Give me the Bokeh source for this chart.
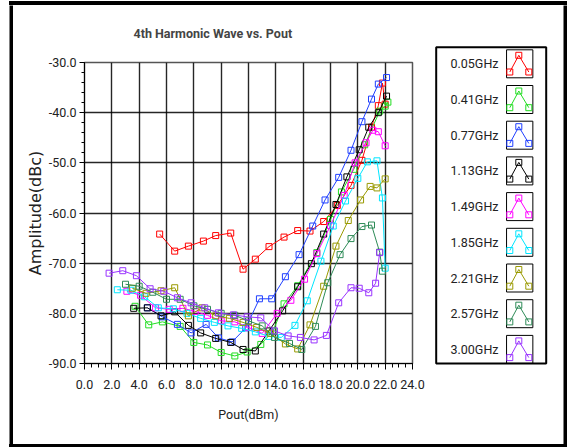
from bokeh.plotting import figure
from bokeh.layouts import Row, Column, Spacer
from bokeh.models import Range1d, SingleIntervalTicker, NumeralTickFormatter
from bokeh.embed import file_html
from bokeh.resources import INLINE
from bokeh.core.properties import value

# ---------------- data ----------------
labels = ["0.05GHz", "0.41GHz", "0.77GHz", "1.13GHz", "1.49GHz",
          "1.85GHz", "2.21GHz", "2.57GHz", "3.00GHz"]
colors = ["#ff0000", "#22dd22", "#1f3fff", "#000000", "#ff00ff",
          "#00e5ff", "#999900", "#2e8b57", "#9933ff"]

x_005 = [5.5, 6.6, 7.6, 8.7, 9.6, 10.7, 11.6, 12.5, 13.5, 14.6, 15.6, 16.5, 17.5, 18.5, 19.5, 20.3, 21.0, 21.5, 21.8, 22.0]
y_005 = [-64.2, -67.6, -66.6, -65.6, -64.5, -64.0, -71.2, -69.2, -66.7, -64.8, -63.5, -63.6, -61.7, -58.5, -54.5, -49.5, -42.9, -38.6, -34.1, -38.3]

x_041 = [3.7, 4.7, 5.7, 7.0, 8.0, 9.0, 10.0, 11.0, 11.9, 12.9, 13.8, 14.6, 15.6, 17.0, 18.0, 18.8, 19.7, 20.5, 21.6, 22.0, 22.2]
y_041 = [-78.6, -82.3, -81.7, -82.6, -85.8, -86.3, -87.8, -88.5, -87.7, -86.2, -83.5, -78.1, -74.5, -67.9, -61.3, -55.8, -51.3, -46.4, -39.7, -38.7, -37.9]

x_077 = [4.6, 5.7, 6.8, 7.8, 8.9, 9.8, 10.8, 11.8, 12.8, 13.7, 14.7, 15.7, 16.7, 17.6, 18.6, 19.5, 20.3, 21.0, 21.5, 22.1]
y_077 = [-78.9, -80.7, -82.2, -83.9, -82.2, -84.9, -85.7, -82.9, -77.1, -77.1, -72.7, -68.3, -62.6, -57.4, -52.9, -47.5, -41.8, -37.3, -34.3, -33.0]

x_113 = [3.6, 4.6, 5.6, 6.6, 7.6, 8.5, 9.6, 10.7, 11.6, 12.5, 13.5, 14.5, 15.6, 16.6, 17.5, 18.4, 19.2, 20.1, 20.8, 21.5, 22.1]
y_113 = [-79.0, -78.9, -80.5, -79.7, -82.4, -83.9, -85.0, -85.8, -87.2, -87.5, -83.5, -79.5, -74.7, -70.1, -64.2, -58.3, -52.8, -47.4, -42.9, -40.0, -36.7]

x_149 = [3.1, 4.1, 5.2, 6.2, 7.2, 8.1, 9.0, 10.0, 11.0, 12.0, 13.0, 14.1, 15.1, 16.1, 17.0, 18.0, 19.0, 19.8, 20.6, 21.1, 21.5, 22.0]
y_149 = [-75.6, -76.4, -78.9, -79.2, -79.0, -79.6, -80.4, -81.5, -81.7, -82.8, -84.0, -80.0, -77.4, -73.2, -68.1, -62.5, -56.5, -50.0, -46.0, -43.5, -43.8, -46.6]

x_185 = [2.4, 3.4, 4.4, 5.4, 6.5, 7.5, 8.5, 9.5, 10.5, 11.5, 12.5, 13.5, 14.4, 15.4, 16.3, 17.3, 18.2, 19.1, 20.0, 20.7, 21.4, 21.8, 22.0]
y_185 = [-75.3, -75.4, -76.7, -78.9, -79.1, -80.0, -81.0, -81.8, -82.5, -83.0, -83.7, -84.6, -84.8, -82.4, -77.5, -69.6, -62.6, -57.6, -53.1, -49.8, -49.6, -57.0, -71.0]

x_221 = [3.5, 4.5, 5.6, 6.6, 7.6, 8.6, 9.6, 10.6, 11.6, 12.6, 13.6, 14.7, 15.6, 16.5, 17.5, 18.4, 19.3, 20.2, 20.9, 21.4, 22.0]
y_221 = [-75.0, -76.0, -75.5, -74.9, -80.5, -78.9, -80.5, -81.0, -81.8, -82.8, -84.0, -86.1, -87.1, -82.3, -74.6, -66.6, -61.5, -57.4, -54.7, -55.0, -53.2]

x_257 = [3.0, 4.0, 5.0, 6.0, 7.0, 8.0, 9.0, 10.0, 11.0, 12.0, 13.0, 13.9, 15.0, 15.9, 16.9, 17.8, 18.7, 19.5, 20.3, 21.0, 21.6, 21.8]
y_257 = [-74.2, -74.6, -75.8, -77.2, -77.2, -78.5, -79.2, -80.0, -80.4, -81.5, -82.5, -84.8, -86.0, -87.2, -82.6, -73.9, -68.3, -65.1, -62.7, -62.4, -67.8, -71.6]

x_300 = [1.8, 2.8, 3.8, 4.8, 5.8, 6.8, 7.8, 8.8, 9.8, 10.9, 11.9, 12.9, 13.9, 14.9, 15.8, 16.8, 17.7, 18.6, 19.5, 20.1, 20.8, 21.3, 21.6]
y_300 = [-72.0, -71.5, -72.5, -75.1, -75.6, -76.9, -77.9, -78.9, -79.9, -80.3, -80.7, -80.9, -83.5, -84.5, -84.8, -85.3, -84.4, -77.9, -74.9, -75.0, -75.9, -74.0, -67.9]

series_x = [x_005, x_041, x_077, x_113, x_149, x_185, x_221, x_257, x_300]
series_y = [y_005, y_041, y_077, y_113, y_149, y_185, y_221, y_257, y_300]

title_text = "4th Harmonic Wave vs. Pout"
x_label = "Pout(dBm)"
y_label = "Amplitude(dBc)"

FONT = "Roboto"
H = 439


def vband(w, h):
    """solid black vertical strip of the outer frame"""
    b = figure(width=w, height=h, output_backend="svg", toolbar_location=None,
               x_axis_location=None, y_axis_location=None, min_border=0,
               background_fill_color="black", border_fill_color="black")
    b.frame_align = False
    b.grid.visible = False
    b.outline_line_color = None
    return b


def hband(w, h):
    """solid black horizontal strip of the outer frame"""
    return Spacer(width=w, height=h, styles={"background-color": "black"})


# ---------------- main plot ----------------
p = figure(width=419, height=H, x_range=Range1d(0, 24), y_range=Range1d(-90, -30),
           output_backend="svg", toolbar_location=None,
           min_border_left=71, min_border_right=20, min_border_top=54, min_border_bottom=81)
p.frame_align = False

p.title.text = title_text
p.title.text_font = FONT
p.title.text_font_size = "12.5px"
p.title.text_font_style = "bold"
p.title.align = "left"
p.title.offset = 49
p.title.vertical_align = "top"
p.title.standoff = 40

p.xaxis.ticker = SingleIntervalTicker(interval=2, num_minor_ticks=4)
p.yaxis.ticker = SingleIntervalTicker(interval=10, num_minor_ticks=5)
p.xaxis.formatter = NumeralTickFormatter(format="0.0")
p.yaxis.formatter = NumeralTickFormatter(format="0.0")
p.xaxis.axis_label = x_label
p.yaxis.axis_label = y_label

for ax in (p.xaxis, p.yaxis):
    ax.axis_line_color = "black"
    ax.major_tick_line_color = "black"
    ax.minor_tick_line_color = "black"
    ax.major_tick_in = 0
    ax.minor_tick_in = 0
    ax.major_label_text_font = FONT
    ax.major_label_text_font_size = "12.5px"
    ax.major_label_text_color = "#222222"
    ax.axis_label_text_font_style = "normal"
    ax.axis_label_text_color = "#222222"

p.xaxis.major_tick_out = 6
p.xaxis.minor_tick_out = 4
p.yaxis.major_tick_out = 5
p.yaxis.minor_tick_out = 3
p.xaxis.major_label_standoff = 10
p.yaxis.major_label_standoff = 3
p.xaxis.axis_label_text_font = FONT
p.xaxis.axis_label_text_font_size = "12.5px"
p.xaxis.axis_label_standoff = 15
p.yaxis.axis_label_text_font = "DejaVu Sans"
p.yaxis.axis_label_text_font_size = "16px"
p.yaxis.axis_label_standoff = 1

p.xgrid.grid_line_color = "black"
p.ygrid.grid_line_color = "black"
p.xgrid.grid_line_width = 1.4
p.ygrid.grid_line_width = 1.4
p.xgrid.grid_line_alpha = 0.85
p.ygrid.grid_line_alpha = 0.85
p.outline_line_color = "#555555"
p.outline_line_width = 1.5

for xs, ys, c in zip(series_x, series_y, colors):
    p.line(xs, ys, line_color=c, line_width=1)
    p.scatter(xs, ys, marker="square", size=6, line_color=c, fill_color="white",
              fill_alpha=0.0, line_width=1)

# ---------------- legend panel ----------------
LW = 131
lg = figure(width=LW, height=H, x_range=Range1d(0, LW), y_range=Range1d(H, 0),
            output_backend="svg", toolbar_location=None,
            x_axis_location=None, y_axis_location=None, min_border=0)
lg.frame_align = False
lg.grid.visible = False
lg.outline_line_color = None

n = len(labels)
row_y = [58.3 + 35.7 * i for i in range(n)]
lg.quad(left=3.7, right=113.7, top=41.7, bottom=358, fill_color=None,
        line_color="black", line_width=2)
lg.text(x=[18] * n, y=row_y, text=labels, text_baseline="middle", text_align="left",
        text_font=value(FONT), text_font_size="12.5px", text_color="#222222")
lg.rect(x=[87.2] * n, y=row_y, width=26.3, height=28, fill_color=None,
        line_color="black", line_width=1)
icon_xs = [[77.3, 86.3, 96.3] for _ in range(n)]
icon_ys = [[cy + 8.2, cy - 8.5, cy + 8.2] for cy in row_y]
lg.multi_line(icon_xs, icon_ys, line_color=colors, line_width=1)
for xs, ys, c in zip(icon_xs, icon_ys, colors):
    lg.scatter(xs, ys, marker="square", size=6, line_color=c, fill_color=None, line_width=1)

# ---------------- assemble with the outer black frame ----------------
inner = Row(children=[vband(4, H), p, lg, vband(4, H)], spacing=0)
framed = Column(children=[hband(558, 4), inner, hband(558, 3)], spacing=0)
layout = Column(children=[Spacer(width=567, height=1),
                          Row(children=[Spacer(width=9, height=446), framed], spacing=0)],
                spacing=0)

open("out.html", "w").write(file_html(layout, INLINE))
